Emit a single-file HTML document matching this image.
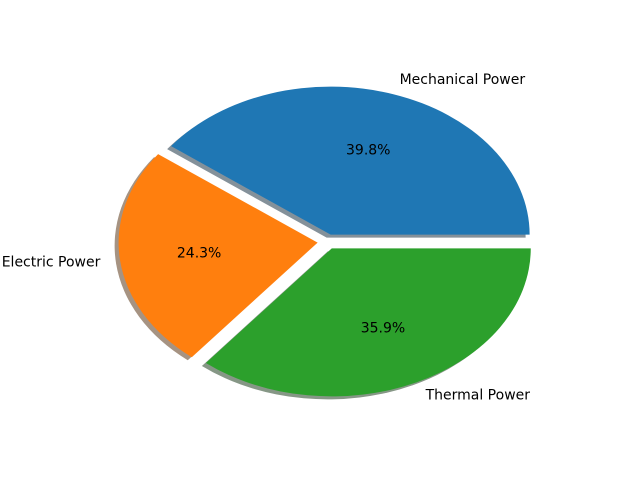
<!DOCTYPE html>
<html><head><meta charset="utf-8"><style>
body{margin:0;background:#fff}
svg{display:block}
text{font-family:"DejaVu Sans","Liberation Sans",sans-serif;font-size:14px;fill:#000}
</style></head><body>
<svg id="chart" width="640" height="478">
<g id="shadows"></g>
<g id="wedges"></g>
<g id="labels"></g>
</svg>
<script>
const categories = ["Mechanical Power", "Electric Power", "Thermal Power"];
const values = [39.8, 24.3, 35.9];
const colors = ["#1f77b4", "#ff7f0e", "#2ca02c"];
const shadowColors = ["#84919a", "#a69382", "#869786"];
const explode = [0.05, 0.05, 0.05];

const cx = 327.5, cy = 241.7, rx = 199, ry = 148;
const NS = "http://www.w3.org/2000/svg";
const total = values.reduce((a, b) => a + b, 0);
const sh = document.getElementById('shadows');
const wg = document.getElementById('wedges');
const lb = document.getElementById('labels');

function pt(x0, y0, a, k) { return [x0 + k * rx * Math.cos(a), y0 - k * ry * Math.sin(a)]; }
function wedgePath(x0, y0, a1, a2) {
  const p1 = pt(x0, y0, a1, 1), p2 = pt(x0, y0, a2, 1);
  const large = (a2 - a1) > Math.PI ? 1 : 0;
  return `M${x0},${y0} L${p1[0]},${p1[1]} A${rx},${ry} 0 ${large} 0 ${p2[0]},${p2[1]} Z`;
}
let start = 0;
values.forEach((v, i) => {
  const span = v / total * 2 * Math.PI;
  const a1 = start, a2 = start + span, mid = (a1 + a2) / 2;
  const [x0, y0] = pt(cx, cy, mid, explode[i]);
  const s = document.createElementNS(NS, 'path');
  s.setAttribute('d', wedgePath(x0 - 4, y0 + 3, a1, a2));
  s.setAttribute('fill', shadowColors[i]);
  
  
  sh.appendChild(s);
  const w = document.createElementNS(NS, 'path');
  w.setAttribute('d', wedgePath(x0, y0, a1, a2));
  w.setAttribute('fill', colors[i]);
  
  
  wg.appendChild(w);
  const lp = pt(x0, y0, mid, 1.1);
  const t = document.createElementNS(NS, 'text');
  t.textContent = categories[i];
  t.setAttribute('x', lp[0]); t.setAttribute('y', lp[1]);
  t.setAttribute('dominant-baseline', 'central');
  t.setAttribute('text-anchor', Math.cos(mid) >= 0 ? 'start' : 'end');
  
  
  lb.appendChild(t);
  const pp = pt(x0, y0, mid, 0.6);
  const p = document.createElementNS(NS, 'text');
  p.textContent = v.toFixed(1) + '%';
  p.setAttribute('x', pp[0]); p.setAttribute('y', pp[1]);
  p.setAttribute('dominant-baseline', 'central');
  p.setAttribute('text-anchor', 'middle');
  
  
  lb.appendChild(p);
  start = a2;
});
</script>
</body></html>
